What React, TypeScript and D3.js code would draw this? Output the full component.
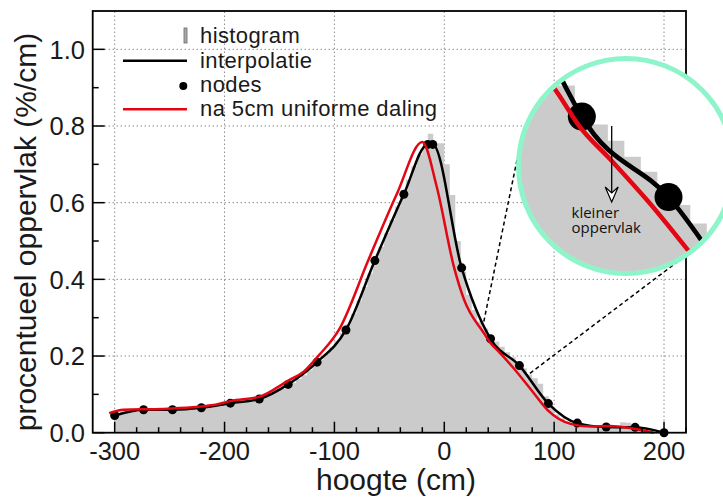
import * as d3 from "d3";

// nodes of the interpolation (hoogte in cm, procentueel oppervlak in %/cm)
const nodeX = [-300, -273.7, -247.4, -221.1, -194.7, -168.4, -142.1, -115.8, -89.5, -63.2, -36.8, -15, -10.5, 15.8, 42.1, 68.4, 94.7, 121.1, 147.4, 173.7, 200];
const nodeY = [0.045, 0.06, 0.06, 0.065, 0.077, 0.088, 0.126, 0.184, 0.268, 0.449, 0.622, 0.752, 0.752, 0.43, 0.245, 0.175, 0.076, 0.025, 0.015, 0.014, 0.0];

// curve after 5cm uniform lowering
const redX = [-305, -292, -256, -210, -194, -168, -142, -128, -115, -95, -69, -43, -20, -7, 9, 18, 36, 41, 51, 62, 79, 94, 115, 133, 151, 170, 191];
const redY = [0.051, 0.06, 0.062, 0.072, 0.083, 0.094, 0.136, 0.159, 0.199, 0.273, 0.451, 0.624, 0.758, 0.643, 0.43, 0.347, 0.26, 0.238, 0.207, 0.172, 0.112, 0.059, 0.023, 0.016, 0.0175, 0.0115, 0.0];

// histogram, 5cm bins starting at -300
const histStart = -300;
const histBin = 5;
const histValues = [
  0.050, 0.055, 0.058, 0.058, 0.060, 0.060, 0.061, 0.060, 0.060, 0.061,
  0.060, 0.061, 0.062, 0.063, 0.064, 0.065, 0.067, 0.069, 0.071, 0.074,
  0.076, 0.078, 0.080, 0.082, 0.084, 0.087, 0.089, 0.094, 0.100, 0.107,
  0.114, 0.122, 0.130, 0.140, 0.150, 0.163, 0.176, 0.190, 0.205, 0.222,
  0.240, 0.260, 0.283, 0.310, 0.345, 0.380, 0.415, 0.450, 0.485, 0.520,
  0.555, 0.590, 0.625, 0.660, 0.695, 0.725, 0.748, 0.780, 0.755, 0.755,
  0.700, 0.620, 0.500, 0.420, 0.360, 0.320, 0.290, 0.272, 0.255, 0.238,
  0.224, 0.210, 0.197, 0.182, 0.168, 0.152, 0.142, 0.128, 0.095, 0.065,
  0.048, 0.038, 0.030, 0.026, 0.022, 0.020, 0.018, 0.016, 0.015, 0.015,
  0.015, 0.018, 0.027, 0.026, 0.018, 0.010, 0.007, 0.004, 0.002, 0.001,
];

const xTicks = [-300, -200, -100, 0, 100, 200];
const yTicks = [0, 0.2, 0.4, 0.6, 0.8, 1.0];
const legendLabels = ["histogram", "interpolatie", "nodes", "na 5cm uniforme daling"];
const insetLabel = ["kleiner", "oppervlak"];

const W = 723;
const H = 500;
const RED = "#e30613";
const GRAY = "#cbcbcb";
const FONT = "'Liberation Sans', Arial, Helvetica, sans-serif";

export default function App() {
  const x = d3.scaleLinear().domain([-320, 220]).range([92.7, 686]);
  const y = d3.scaleLinear().domain([0, 1.1]).range([432.7, 11]);
  const [x0, x1] = x.range();
  const [yb, yt] = y.range();

  // magnified inset, centred on a point of the chart
  const focus = { x: 55.5, y: 0.202 };
  const mag = 3;
  const inset = { cx: 626, cy: 166, r: 107.5 };
  const xi = d3.scaleLinear().domain(x.domain()).range(x.range().map((v) => (v - x(focus.x)) * mag + inset.cx));
  const yi = d3.scaleLinear().domain(y.domain()).range(y.range().map((v) => (v - y(focus.y)) * mag + inset.cy));

  const histPts: [number, number][] = histValues.map((v, i) => [histStart + i * histBin, v]);
  histPts.push([histStart + histValues.length * histBin, histValues[histValues.length - 1]]);
  const nodes: [number, number][] = nodeX.map((v, i) => [v, nodeY[i]]);
  const red: [number, number][] = redX.map((v, i) => [v, redY[i]]);

  const makeArea = (sx: any, sy: any) =>
    d3.area<[number, number]>().x((d) => sx(d[0])).y0(sy(0)).y1((d) => sy(d[1])).curve(d3.curveStepAfter)(histPts)!;
  const makeLine = (sx: any, sy: any, pts: [number, number][]) =>
    d3.line<[number, number]>().x((d) => sx(d[0])).y((d) => sy(d[1])).curve(d3.curveMonotoneX)(pts)!;

  const minorX = d3.range(-300, 221, 20).filter((v) => v % 100 !== 0);
  const minorY = d3.range(0.1, 1.1, 0.2);

  // dashed connectors: from chart point to inset rim (angle in degrees)
  const connectors = [
    { from: [36, 0.29], angle: 191.9 },
    { from: [78, 0.155], angle: 47.2 },
  ];
  const rim = 108;

  return (
    <svg width={W} height={H} style={{ position: "absolute", left: 0, top: 0, background: "#fff" }} fontFamily={FONT}>
      <defs>
        <clipPath id="inset-clip">
          <circle cx={inset.cx} cy={inset.cy} r={inset.r - 2} />
        </clipPath>
      </defs>

      {/* grid */}
      <g stroke="#555" strokeWidth={1} strokeDasharray="1 3">
        {xTicks.map((t) => (
          <line key={"gx" + t} x1={x(t)} x2={x(t)} y1={yb} y2={yt} />
        ))}
        {yTicks.filter((t) => t > 0).map((t) => (
          <line key={"gy" + t} x1={x0} x2={x1} y1={y(t)} y2={y(t)} />
        ))}
      </g>

      {/* histogram */}
      <path d={makeArea(x, y)} fill={GRAY} />

      {/* interpolation, nodes, lowered curve */}
      <path d={makeLine(x, y, nodes)} fill="none" stroke="#000" strokeWidth={2.5} />
      {nodes.map((d, i) => (
        <circle key={"n" + i} cx={x(d[0])} cy={y(d[1])} r={4.5} fill="#000" />
      ))}
      <path d={makeLine(x, y, red)} fill="none" stroke={RED} strokeWidth={2.5} />

      {/* frame and ticks */}
      <rect x={x0} y={yt} width={x1 - x0} height={yb - yt} fill="none" stroke="#000" strokeWidth={1.8} />
      <g stroke="#000" strokeWidth={1.5}>
        {xTicks.map((t) => (
          <line key={"tx" + t} x1={x(t)} x2={x(t)} y1={yb} y2={yb - 11} />
        ))}
        {minorX.map((t) => (
          <line key={"mx" + t} x1={x(t)} x2={x(t)} y1={yb} y2={yb - 5.5} />
        ))}
        {yTicks.map((t) => (
          <line key={"ty" + t} x1={x0} x2={x0 + 12} y1={y(t)} y2={y(t)} />
        ))}
        {minorY.map((t) => (
          <line key={"my" + t} x1={x0} x2={x0 + 6} y1={y(t)} y2={y(t)} />
        ))}
      </g>
      <g fontSize={25.5} fill="#1a1a1a">
        {xTicks.map((t) => (
          <text key={"lx" + t} x={x(t)} y={460} textAnchor="middle">
            {t}
          </text>
        ))}
        {yTicks.map((t) => (
          <text key={"ly" + t} x={85} y={y(t)} dy="0.36em" textAnchor="end">
            {t.toFixed(1)}
          </text>
        ))}
      </g>
      <text x={396} y={490} fontSize={30} textAnchor="middle" fill="#1a1a1a">
        hoogte (cm)
      </text>
      <text transform={`translate(36, 232) rotate(-90)`} fontSize={30} textAnchor="middle" fill="#1a1a1a">
        procentueel oppervlak (%/cm)
      </text>

      {/* legend */}
      <g fontSize={22} letterSpacing={0.4} fill="#1a1a1a">
        {legendLabels.map((l, i) => (
          <text key={l} x={200} y={43.3 + i * 24.2}>
            {l}
          </text>
        ))}
      </g>
      <rect x={184} y={28} width={3} height={15} fill="#aaa" stroke="#666" strokeWidth={0.8} />
      <line x1={123} x2={187} y1={60.7} y2={60.7} stroke="#000" strokeWidth={2.6} />
      <circle cx={183.3} cy={86} r={4} fill="#000" />
      <line x1={123} x2={187} y1={109.2} y2={109.2} stroke={RED} strokeWidth={2.6} />

      {/* dashed connectors */}
      <g stroke="#000" strokeWidth={1.5} strokeDasharray="4 3">
        {connectors.map((c, i) => (
          <line
            key={"c" + i}
            x1={x(c.from[0])}
            y1={y(c.from[1])}
            x2={inset.cx + rim * Math.cos((c.angle * Math.PI) / 180)}
            y2={inset.cy + rim * Math.sin((c.angle * Math.PI) / 180)}
          />
        ))}
      </g>

      {/* inset */}
      <circle cx={inset.cx} cy={inset.cy} r={inset.r} fill="#fff" />
      <g clipPath="url(#inset-clip)">
        <path d={makeArea(xi, yi)} fill={GRAY} />
        <path d={makeLine(xi, yi, nodes)} fill="none" stroke="#000" strokeWidth={4.7} />
        {nodes.map((d, i) => (
          <circle key={"ni" + i} cx={xi(d[0])} cy={yi(d[1])} r={14} fill="#000" />
        ))}
        <path d={makeLine(xi, yi, red)} fill="none" stroke={RED} strokeWidth={4.5} />
        <line x1={inset.cx - 14.3} x2={inset.cx - 14.3} y1={inset.cy - 40} y2={inset.cy + 33} stroke="#000" strokeWidth={1.3} />
        <path
          transform={`translate(${inset.cx - 14.3}, ${inset.cy + 36})`}
          d="M0,0 L-6.5,-15 L0,-9 L6.5,-15 Z"
          fill="#fff"
          stroke="#000"
          strokeWidth={1.2}
          strokeLinejoin="miter"
        />
        <text fontFamily="'Open Sans', 'Noto Sans', sans-serif" fontSize={15} fill="#111" y={inset.cy + 52}>
          {insetLabel.map((l, i) => (
            <tspan key={l} x={inset.cx - 54.5} dy={i === 0 ? 0 : 15}>
              {l}
            </tspan>
          ))}
        </text>
      </g>
      <circle cx={inset.cx} cy={inset.cy} r={inset.r} fill="none" stroke="#8df5c9" strokeWidth={5} />
    </svg>
  );
}
